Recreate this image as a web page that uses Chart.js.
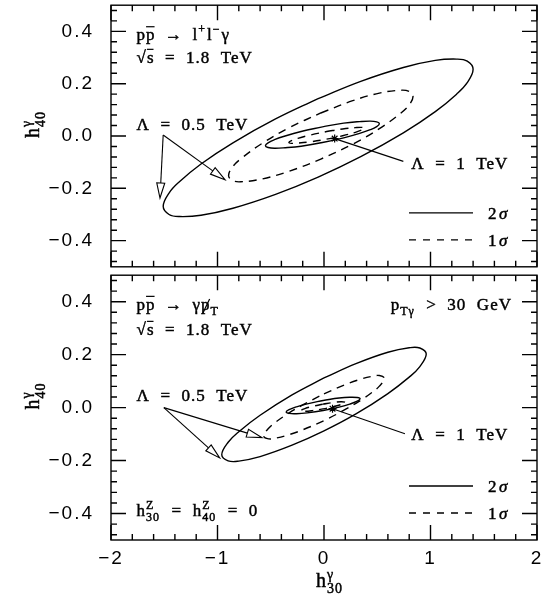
<!DOCTYPE html>
<html>
<head>
<meta charset="utf-8">
<script src="https://cdn.jsdelivr.net/npm/chart.js@4.4.0/dist/chart.umd.min.js"></script>
<style>
  html, body { margin: 0; padding: 0; background: #fff; }
  #wrap { position: relative; width: 548px; height: 602px; }
  #top { position: absolute; left: 0; top: 0; width: 548px; height: 272px; }
  #bottom { position: absolute; left: 0; top: 270px; width: 548px; height: 332px; }
</style>
</head>
<body>
<div id="wrap">
  <canvas id="top" width="548" height="272"></canvas>
  <canvas id="bottom" width="548" height="332"></canvas>
</div>
<script>
// axis ticks
const xTickValues = [-2, -1, 0, 1, 2];
const xTickLabels = ['\u22122', '\u22121', '0', '1', '2'];
const yTickValues = [-0.4, -0.2, 0, 0.2, 0.4];
const yTickLabels = ['\u22120.4', '\u22120.2', '0.0', '0.2', '0.4'];

// top panel: p pbar -> l+ l- gamma  (contours, [h30, h40])
const llHalf2s = [[-0.055, 0.143], [0.345, 0.209], [0.745, 0.262], [1.045, 0.289], [1.245, 0.294], [1.345, 0.286],
  [1.40, 0.255], [1.345, 0.204], [1.245, 0.160], [1.045, 0.093], [0.745, 0.012], [0.345, -0.079], [-0.055, -0.157],
  [-0.455, -0.223], [-0.855, -0.276], [-1.155, -0.303], [-1.355, -0.308], [-1.455, -0.300], [-1.51, -0.269],
  [-1.455, -0.218], [-1.355, -0.174], [-1.155, -0.107], [-0.855, -0.026], [-0.455, 0.065], [-0.055, 0.143]];
const llHalf1s = [[-0.03, 0.088], [0.27, 0.135], [0.52, 0.164], [0.72, 0.175], [0.80, 0.170], [0.836, 0.151],
  [0.80, 0.119], [0.72, 0.087], [0.52, 0.028], [0.27, -0.031], [-0.03, -0.088], [-0.33, -0.135], [-0.58, -0.164],
  [-0.78, -0.175], [-0.86, -0.170], [-0.896, -0.151], [-0.86, -0.119], [-0.78, -0.087], [-0.58, -0.028],
  [-0.33, 0.031], [-0.03, 0.088]];
const llOne2s = [[-0.015, 0.035], [0.185, 0.049], [0.335, 0.055], [0.435, 0.057], [0.495, 0.054], [0.52, 0.047],
  [0.495, 0.036], [0.435, 0.024], [0.335, 0.010], [0.185, -0.007], [-0.015, -0.025], [-0.215, -0.039],
  [-0.365, -0.045], [-0.465, -0.047], [-0.525, -0.044], [-0.55, -0.037], [-0.525, -0.026], [-0.465, -0.014],
  [-0.365, 0.0], [-0.215, 0.017], [-0.015, 0.035]];
const llOne1s = [[0.025, 0.017], [0.175, 0.027], [0.295, 0.032], [0.355, 0.033], [0.38, 0.03], [0.355, 0.023],
  [0.295, 0.014], [0.175, 0.001], [0.025, -0.012], [-0.125, -0.022], [-0.245, -0.027], [-0.305, -0.028],
  [-0.33, -0.025], [-0.305, -0.018], [-0.245, -0.009], [-0.125, 0.004], [0.025, 0.017]];
const llCentre = [[0.1, -0.01]];

// bottom panel: p pbar -> gamma + missing pT
const nuHalf2s = [[0, 0.112], [0.3, 0.166], [0.6, 0.209], [0.8, 0.226], [0.9, 0.225], [0.96, 0.202],
  [0.9, 0.155], [0.8, 0.115], [0.6, 0.053], [0.3, -0.024], [0, -0.088], [-0.3, -0.142], [-0.6, -0.185],
  [-0.8, -0.202], [-0.9, -0.201], [-0.96, -0.178], [-0.9, -0.131], [-0.8, -0.091], [-0.6, -0.029],
  [-0.3, 0.048], [0, 0.112]];
const nuHalf1s = [[0, 0.052], [0.2, 0.087], [0.35, 0.108], [0.45, 0.118], [0.52, 0.121], [0.567, 0.110],
  [0.52, 0.081], [0.45, 0.057], [0.35, 0.029], [0.2, -0.007], [0, -0.049], [-0.2, -0.084], [-0.35, -0.105],
  [-0.45, -0.115], [-0.52, -0.118], [-0.567, -0.107], [-0.52, -0.078], [-0.45, -0.054], [-0.35, -0.026],
  [-0.2, 0.010], [0, 0.052]];
const nuOne2s = [[-0.008, 0.027], [0.142, 0.036], [0.242, 0.039], [0.312, 0.038], [0.339, 0.033], [0.312, 0.024],
  [0.242, 0.013], [0.142, 0.002], [-0.008, -0.011], [-0.158, -0.020], [-0.258, -0.023], [-0.328, -0.022],
  [-0.355, -0.017], [-0.328, -0.008], [-0.258, 0.003], [-0.158, 0.014], [-0.008, 0.027]];
const nuOne1s = [[-0.01, 0.013], [0.09, 0.0195], [0.16, 0.022], [0.2, 0.020], [0.16, 0.0116], [0.09, 0.0037],
  [-0.01, -0.005], [-0.11, -0.0115], [-0.18, -0.014], [-0.22, -0.012], [-0.18, -0.0036], [-0.11, 0.0043],
  [-0.01, 0.013]];
const nuCentre = [[0.08, -0.004]];

const SERIF = '"Liberation Serif", "DejaVu Serif", serif';
const SANS = '"Liberation Sans", Arial, sans-serif';
const NOTE_SIZE = 17;

function contour(pts, dashed) {
  return {
    data: pts.map(p => ({ x: p[0], y: p[1] })),
    showLine: true,
    borderColor: '#000',
    borderWidth: 1.4,
    borderDash: dashed ? [8, 6] : [],
    pointRadius: 0,
    tension: 0.4,
    fill: false
  };
}

function centre(pts) {
  return {
    data: pts.map(p => ({ x: p[0], y: p[1] })),
    pointStyle: 'star',
    pointRadius: 4,
    borderColor: '#000',
    borderWidth: 1.2,
    backgroundColor: '#fff'
  };
}

// draws text made of pieces: plain, overlined, slashed, sub/superscripts
function drawRich(ctx, parts, x, y, size, align) {
  const small = Math.round(size * 0.68);
  const items = parts.map(p => {
    let w;
    if (p.t !== undefined) {
      ctx.font = size + 'px ' + SERIF;
      w = ctx.measureText(p.t).width;
    } else {
      ctx.font = small + 'px ' + SERIF;
      w = Math.max(p.sub ? ctx.measureText(p.sub).width : 0, p.sup ? ctx.measureText(p.sup).width : 0) + 1;
    }
    return { p, w };
  });
  const total = items.reduce((s, it) => s + it.w, 0);
  let cx = align === 'right' ? x - total : align === 'center' ? x - total / 2 : x;
  ctx.textAlign = 'left';
  ctx.textBaseline = 'alphabetic';
  const put = (t, px, py) => {
    ctx.fillText(t, px, py);
    ctx.strokeText(t, px, py);
  };
  for (const { p, w } of items) {
    ctx.lineWidth = 0.45;
    if (p.t !== undefined) {
      ctx.font = size + 'px ' + SERIF;
      put(p.t, cx, y);
      ctx.lineWidth = 1.2;
      if (p.over) {
        ctx.beginPath();
        ctx.moveTo(cx, y - size * p.over);
        ctx.lineTo(cx + w - 1, y - size * p.over);
        ctx.stroke();
      }
      if (p.slash) {
        ctx.beginPath();
        ctx.moveTo(cx + w * 0.15, y + size * 0.25);
        ctx.lineTo(cx + w * 0.9, y - size * 0.62);
        ctx.stroke();
      }
    } else {
      ctx.font = small + 'px ' + SERIF;
      if (p.sup) put(p.sup, cx, y - size * 0.42);
      if (p.sub) put(p.sub, cx, y + size * 0.3);
    }
    cx += w;
  }
}

function openArrow(ctx, x0, y0, x1, y1) {
  const ang = Math.atan2(y1 - y0, x1 - x0);
  const len = 15, half = 4;
  const bx = x1 - len * Math.cos(ang), by = y1 - len * Math.sin(ang);
  ctx.beginPath();
  ctx.moveTo(x0, y0);
  ctx.lineTo(bx, by);
  ctx.stroke();
  ctx.beginPath();
  ctx.moveTo(x1, y1);
  ctx.lineTo(bx + half * Math.sin(ang), by - half * Math.cos(ang));
  ctx.lineTo(bx - half * Math.sin(ang), by + half * Math.cos(ang));
  ctx.closePath();
  ctx.fillStyle = '#fff';
  ctx.fill();
  ctx.stroke();
  ctx.fillStyle = '#000';
}

const framePlugin = {
  id: 'frame',
  beforeDraw(chart) {
    chart.ctx.letterSpacing = '2px';
  },
  afterDatasetsDraw(chart) {
    const { ctx, chartArea: a, scales: { x, y } } = chart;
    ctx.save();
    ctx.strokeStyle = '#000';
    ctx.lineWidth = 1.4;
    ctx.strokeRect(a.left, a.top, a.right - a.left, a.bottom - a.top);
    ctx.beginPath();
    for (let i = 0; i <= 20; i++) {
      const px = x.getPixelForValue(-2 + i * 0.2);
      const len = i % 5 === 0 ? 15 : 6;
      ctx.moveTo(px, a.top); ctx.lineTo(px, a.top + len);
      ctx.moveTo(px, a.bottom); ctx.lineTo(px, a.bottom - len);
    }
    for (let i = -12; i <= 12; i++) {
      const py = y.getPixelForValue(i * 0.04);
      const len = i % 5 === 0 ? 15 : 6;
      ctx.moveTo(a.left, py); ctx.lineTo(a.left + len, py);
      ctx.moveTo(a.right, py); ctx.lineTo(a.right - len, py);
    }
    ctx.stroke();
    ctx.restore();
  }
};

const notesPlugin = {
  id: 'notes',
  afterDraw(chart, args, opts) {
    const { ctx, chartArea: a, scales: { x, y } } = chart;
    ctx.save();
    ctx.fillStyle = '#000';
    ctx.strokeStyle = '#000';
    ctx.letterSpacing = '1px';
    for (const n of opts.texts) {
      drawRich(ctx, n.parts, x.getPixelForValue(n.x), y.getPixelForValue(n.y), NOTE_SIZE, n.align || 'left');
    }
    ctx.lineWidth = 1.1;
    for (const ar of opts.arrows) {
      const x0 = x.getPixelForValue(ar.from[0]), y0 = y.getPixelForValue(ar.from[1]);
      const x1 = x.getPixelForValue(ar.to[0]), y1 = y.getPixelForValue(ar.to[1]);
      if (ar.head) {
        openArrow(ctx, x0, y0, x1, y1);
      } else {
        ctx.beginPath(); ctx.moveTo(x0, y0); ctx.lineTo(x1, y1); ctx.stroke();
      }
    }
    // legend
    const rows = [{ dash: [], label: '2', dy: -54 }, { dash: [7, 7], label: '1', dy: -27 }];
    for (const r of rows) {
      ctx.lineWidth = 1.3;
      ctx.setLineDash(r.dash);
      ctx.beginPath();
      ctx.moveTo(a.right - 128, a.bottom + r.dy);
      ctx.lineTo(a.right - 64, a.bottom + r.dy);
      ctx.stroke();
      ctx.setLineDash([]);
      ctx.letterSpacing = '0px';
      ctx.lineWidth = 0.45;
      ctx.font = NOTE_SIZE + 'px ' + SERIF;
      ctx.fillText(r.label, a.right - 49, a.bottom + r.dy + 6);
      ctx.strokeText(r.label, a.right - 49, a.bottom + r.dy + 6);
      ctx.font = 'italic ' + NOTE_SIZE + 'px ' + SERIF;
      ctx.fillText('\u03c3', a.right - 38, a.bottom + r.dy + 6);
      ctx.strokeText('\u03c3', a.right - 38, a.bottom + r.dy + 6);
      ctx.letterSpacing = '1px';
    }
    // axis titles
    ctx.save();
    ctx.translate(39, (a.top + a.bottom) / 2 - 12);
    ctx.rotate(-Math.PI / 2);
    drawRich(ctx, [{ t: 'h' }, { sub: '40', sup: '\u03b3' }], 0, 0, 20, 'center');
    ctx.restore();
    if (opts.xTitle) {
      drawRich(ctx, [{ t: 'h' }, { sub: '30', sup: '\u03b3' }], x.getPixelForValue(0) - 8, chart.height - 15, 20, 'left');
    }
    ctx.restore();
  }
};

function makePanel(id, sets, notes, bottom) {
  return new Chart(document.getElementById(id), {
    type: 'scatter',
    data: { datasets: sets },
    options: {
      responsive: false,
      maintainAspectRatio: false,
      animation: false,
      events: [],
      layout: { padding: { top: 1, right: 11, bottom: bottom ? 0 : 1, left: 0 } },
      plugins: { legend: { display: false }, tooltip: { enabled: false }, notes: notes },
      scales: {
        x: {
          type: 'linear', min: -2, max: 2, display: bottom,
          afterBuildTicks: s => { s.ticks = xTickValues.map(v => ({ value: v })); },
          afterFit: s => {
            s.height = bottom ? 62 : 0;
            s.paddingLeft = 0; s.paddingRight = 0;
          },
          grid: { display: false, drawTicks: false },
          border: { display: false },
          ticks: {
            padding: 7, color: '#000', maxRotation: 0, autoSkip: false,
            font: { family: SANS, size: 19 },
            callback: (v, i) => xTickLabels[i]
          }
        },
        y: {
          type: 'linear', min: -0.5, max: 0.5,
          afterBuildTicks: s => { s.ticks = yTickValues.map(v => ({ value: v })); },
          afterFit: s => {
            s.width = 111;
            s.paddingTop = 0; s.paddingBottom = 0;
          },
          grid: { display: false, drawTicks: false },
          border: { display: false },
          ticks: {
            padding: 17, color: '#000', autoSkip: false,
            font: { family: SANS, size: 19 },
            callback: (v, i) => yTickLabels[i]
          }
        }
      }
    },
    plugins: [framePlugin, notesPlugin]
  });
}

const arrowSp = '\u2002\u2192\u2002';

makePanel('top', [
  contour(llHalf2s, false), contour(llHalf1s, true),
  contour(llOne2s, false), contour(llOne1s, true),
  centre(llCentre)
], {
  texts: [
    { x: -1.76, y: 0.367, parts: [{ t: 'p' }, { t: 'p', over: 0.78 }, { t: arrowSp + 'l' }, { sup: '+' }, { t: 'l' }, { sup: '\u2212' }, { t: '\u03b3' }] },
    { x: -1.76, y: 0.278, parts: [{ t: '\u221a' }, { t: 's', over: 0.82 }, { t: '  =  1.8  TeV' }] },
    { x: -1.76, y: 0.022, parts: [{ t: '\u039b  =  0.5  TeV' }] },
    { x: 0.82, y: -0.126, parts: [{ t: '\u039b  =  1  TeV' }] }
  ],
  arrows: [
    { from: [-1.51, 0.004], to: [-1.54, -0.237], head: true },
    { from: [-1.51, 0.004], to: [-0.93, -0.167], head: true },
    { from: [0.745, -0.097], to: [0.1, -0.01], head: false }
  ],
  xTitle: false
}, false);

makePanel('bottom', [
  contour(nuHalf2s, false), contour(nuHalf1s, true),
  contour(nuOne2s, false), contour(nuOne1s, true),
  centre(nuCentre)
], {
  texts: [
    { x: -1.76, y: 0.37, parts: [{ t: 'p' }, { t: 'p', over: 0.78 }, { t: arrowSp + '\u03b3' }, { t: 'p', slash: true }, { sub: 'T' }] },
    { x: -1.76, y: 0.273, parts: [{ t: '\u221a' }, { t: 's', over: 0.82 }, { t: '  =  1.8  TeV' }] },
    { x: 1.765, y: 0.37, align: 'right', parts: [{ t: 'p' }, { sub: 'T\u03b3' }, { t: '  >  30  GeV' }] },
    { x: -1.76, y: 0.026, parts: [{ t: '\u039b  =  0.5  TeV' }] },
    { x: 0.82, y: -0.122, parts: [{ t: '\u039b  =  1  TeV' }] },
    { x: -1.76, y: -0.41, parts: [{ t: 'h' }, { sub: '30', sup: 'Z' }, { t: '  =  h' }, { sub: '40', sup: 'Z' }, { t: '  =  0' }] }
  ],
  arrows: [
    { from: [-1.504, 0.0], to: [-0.585, -0.113], head: true },
    { from: [-1.504, 0.0], to: [-0.98, -0.19], head: true },
    { from: [0.76, -0.099], to: [0.08, -0.004], head: false }
  ],
  xTitle: true
}, true);
</script>
</body>
</html>
